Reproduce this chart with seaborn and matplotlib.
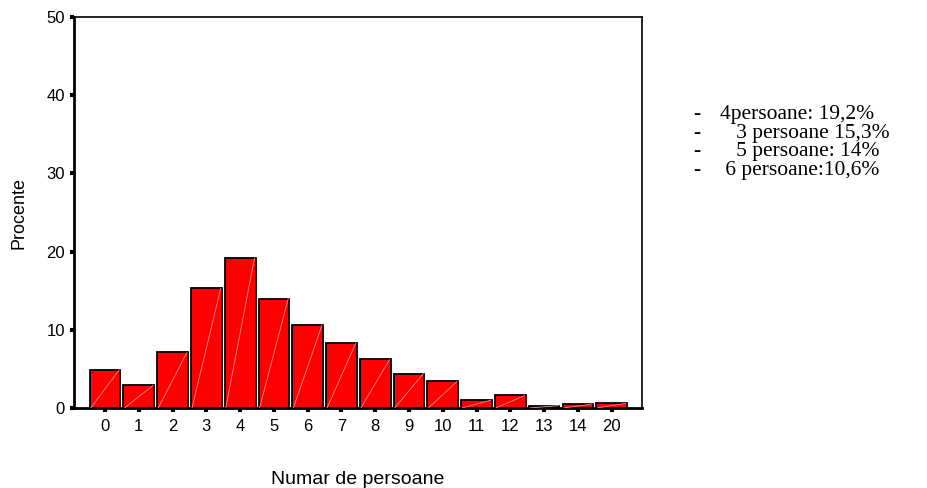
import matplotlib
matplotlib.use("Agg")
import matplotlib.pyplot as plt
import seaborn as sns
import pandas as pd

# categorii (numar de persoane) si procente
persoane = ["0", "1", "2", "3", "4", "5", "6", "7", "8", "9", "10", "11", "12", "13", "14", "20"]
procente = [4.9, 2.9, 7.1, 15.3, 19.2, 14.0, 10.6, 8.3, 6.2, 4.4, 3.4, 1.0, 1.6, 0.3, 0.5, 0.6]
note = ["4persoane: 19,2%", "   3 persoane 15,3%", "   5 persoane: 14%", " 6 persoane:10,6%"]

sns.set_style("white", {"text.color": "black", "axes.labelcolor": "black",
                        "xtick.color": "black", "ytick.color": "black"})
plt.rcParams['font.family'] = ['Liberation Sans', 'DejaVu Sans']

df = pd.DataFrame({"persoane": persoane, "procente": procente})

fig = plt.figure(figsize=(9.27, 4.88), dpi=100)
ax = fig.add_axes([0.0798, 0.164, 0.6128, 0.801])

sns.barplot(data=df, x="persoane", y="procente", order=persoane, color="#ff0000",
            saturation=1, width=0.91, edgecolor="black", linewidth=1.3, ax=ax)

# diagonala fina din interiorul barelor
for p in ax.patches:
    x0, y0 = p.get_x(), p.get_y()
    ax.plot([x0 + 0.03, x0 + p.get_width() - 0.03], [y0, y0 + p.get_height()],
            color="#ff9090", lw=0.6, zorder=3)

ax.set_xlim(-0.92, 15.9)
ax.set_ylim(0, 50)
ax.set_yticks([0, 10, 20, 30, 40, 50])
for s in ax.spines.values():
    s.set_color("black")
    s.set_linewidth(1.2)
ax.spines["left"].set_linewidth(2)
ax.spines["bottom"].set_linewidth(2)
ax.tick_params(axis="both", direction="out", length=3, width=3, color="black",
               labelcolor="black", labelsize=12, left=True, bottom=True)
ax.tick_params(axis="x", pad=5)
ax.set_xlabel("Numar de persoane", fontsize=14, color="black")
ax.xaxis.set_label_coords(0.5, -0.16)
ax.set_ylabel("Procente", fontsize=13, color="black")
ax.yaxis.set_label_coords(-0.082, 0.5)

# textul din dreapta
y0 = 0.765
for i, t in enumerate(note):
    fig.text(0.748, y0 - i * 0.038, "-", fontsize=15.5, family="Liberation Serif",
             va="center", color="black")
    fig.text(0.777, y0 - i * 0.038, t, fontsize=15.5, family="Liberation Serif",
             va="center", color="black")

fig.savefig("out.png", dpi=100)
